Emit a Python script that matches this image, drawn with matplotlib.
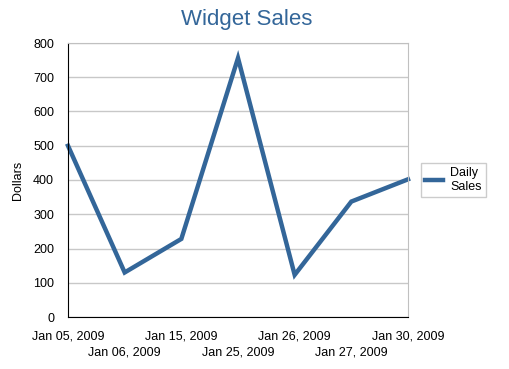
import matplotlib
matplotlib.use("Agg")
import matplotlib.pyplot as plt

plt.rcParams['font.family'] = ['Liberation Sans', 'DejaVu Sans']

categories = ["Jan 05, 2009", "Jan 06, 2009", "Jan 15, 2009", "Jan 25, 2009",
              "Jan 26, 2009", "Jan 27, 2009", "Jan 30, 2009"]
sales = [500, 130, 228, 756, 123, 337, 402]
yticks = [0, 100, 200, 300, 400, 500, 600, 700, 800]

line_color = "#336699"

fig = plt.figure(figsize=(5.10, 3.69), dpi=100)
ax = fig.add_axes([68/510, 52/369, 340/510, 274/369])

x = list(range(len(categories)))
ax.plot(x, sales, color=line_color, lw=3.2, solid_joinstyle='miter',
        label="Daily\nSales", clip_on=False)

ax.set_xlim(0, len(categories) - 1)
ax.set_ylim(0, 800)
ax.set_yticks(yticks)
ax.set_yticklabels([str(v) for v in yticks], fontsize=9)
ax.yaxis.grid(True, color="#c8c8c8", lw=1)
ax.set_axisbelow(True)
ax.tick_params(axis='both', which='both', length=0)
ax.tick_params(axis='y', pad=10)

even = [i for i in x if i % 2 == 0]
odd = [i for i in x if i % 2 == 1]
ax.set_xticks(even)
ax.set_xticklabels([categories[i] for i in even], fontsize=9)
ax.set_xticks(odd, minor=True)
ax.set_xticklabels([categories[i] for i in odd], minor=True, fontsize=9)
ax.tick_params(axis='x', which='major', pad=10)
ax.tick_params(axis='x', which='minor', pad=21)

for s in ['top', 'right']:
    ax.spines[s].set_color("#c0c0c0")
for s in ['left', 'bottom']:
    ax.spines[s].set_color("black")

fig.text(18/510, 1 - 180/369, "Dollars", fontsize=9, rotation=90,
         ha='center', va='center')
fig.text(247/510, 1 - 19/369, "Widget Sales", color=line_color, fontsize=16,
         ha='center', va='center')

leg = ax.legend(loc='center left', bbox_to_anchor=(1.02, 0.5), fontsize=9,
                frameon=True, fancybox=False, handlelength=1.4, handletextpad=0.6,
                borderpad=0.35, labelspacing=0.2)
leg.get_frame().set_edgecolor("#c0c0c0")
leg.get_frame().set_linewidth(1)

fig.savefig("out.png", dpi=100)
